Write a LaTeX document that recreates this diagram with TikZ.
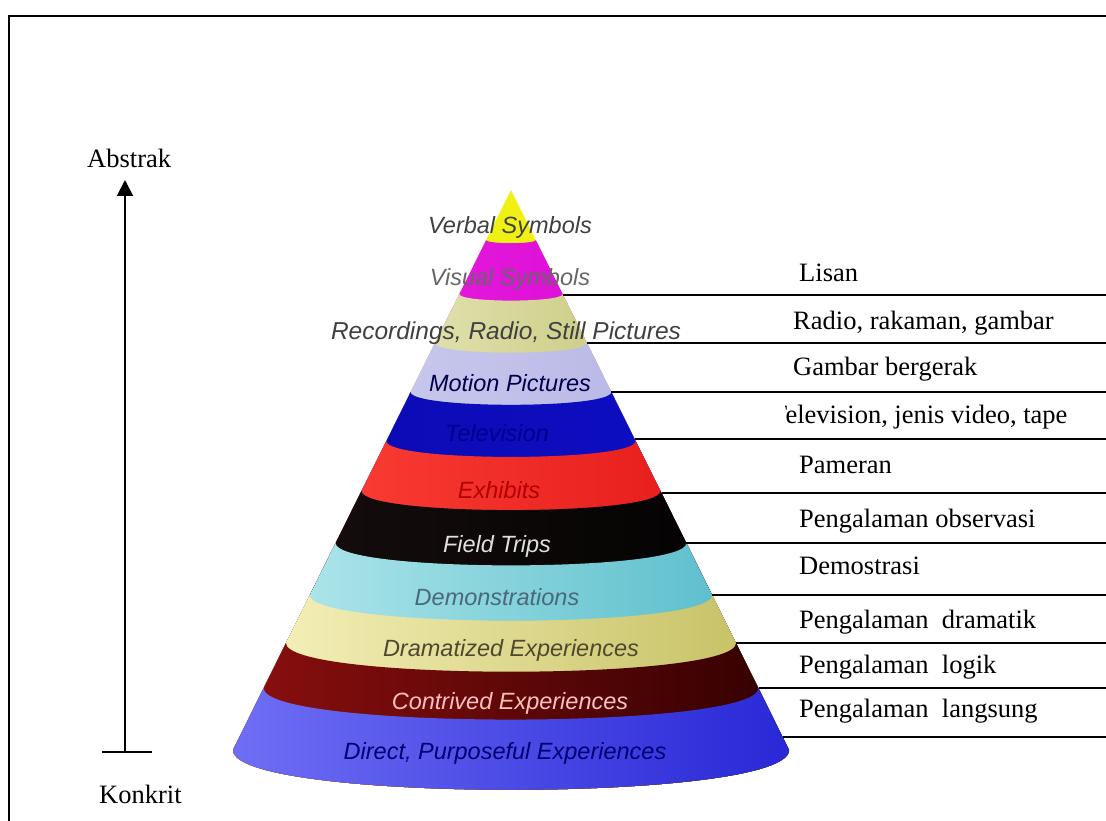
\documentclass[tikz,border=0pt]{standalone}
\usepackage{fontspec}
\setmainfont{Liberation Serif}
\newfontfamily\conefont{Liberation Sans}
\usetikzlibrary{arrows.meta}

\definecolor{cYel}{RGB}{240,240,20}
\definecolor{cMagL}{RGB}{235,40,225}
\definecolor{cMagR}{RGB}{215,0,210}
\definecolor{cKhaL}{RGB}{245,245,215}
\definecolor{cKhaR}{RGB}{185,185,95}
\definecolor{cLavL}{RGB}{210,210,242}
\definecolor{cLavR}{RGB}{175,175,225}
\definecolor{cBluL}{RGB}{10,10,175}
\definecolor{cBluR}{RGB}{15,15,200}
\definecolor{cRedL}{RGB}{255,70,60}
\definecolor{cRedR}{RGB}{225,20,20}
\definecolor{cBlkL}{RGB}{25,15,15}
\definecolor{cBlkR}{RGB}{0,0,0}
\definecolor{cCyaL}{RGB}{185,235,238}
\definecolor{cCyaR}{RGB}{80,185,200}
\definecolor{cCreL}{RGB}{248,243,190}
\definecolor{cCreR}{RGB}{195,190,95}
\definecolor{cDrdL}{RGB}{140,15,15}
\definecolor{cDrdR}{RGB}{50,0,0}
\definecolor{cBasL}{RGB}{110,110,245}
\definecolor{cBasR}{RGB}{40,40,215}

\tikzset{
  rlabel/.style={anchor=base west, inner sep=0pt, font=\fontsize{26.5}{31}\selectfont},
  conelabel/.style={inner sep=0pt, font=\conefont\itshape\fontsize{23.5}{28}\selectfont},
  leader/.style={line width=1.8pt},
}

\begin{document}
\begin{tikzpicture}[x=1pt,y=-1pt]
  \useasboundingbox (0,0) rectangle (1106,821);
  % frame
  \draw[line width=2pt] (9,821) -- (9,16) -- (1106,16);

  % cone, painted from the tip down
  \fill[cYel] (511,190) -- (233,750) .. controls (233,803) and (789,803) .. (789,750) -- cycle;
  \foreach \yb/\cl/\cr in {240/cMagL/cMagR, 294/cKhaL/cKhaR, 343/cLavL/cLavR,
      392/cBluL/cBluR, 441/cRedL/cRedR, 491/cBlkL/cBlkR, 543/cCyaL/cCyaR,
      595/cCreL/cCreR, 643/cDrdL/cDrdR, 688/cBasL/cBasR} {
    \pgfmathsetmacro\w{0.497*(\yb-190)}
    \pgfmathsetmacro\xl{511-\w}
    \pgfmathsetmacro\xr{511+\w}
    \pgfmathsetmacro\yc{\yb+0.17*\w}
    \shade[left color=\cl, right color=\cr]
      (\xl,\yb) .. controls (\xl,\yc) and (\xr,\yc) .. (\xr,\yb)
      -- (789,750) .. controls (789,803) and (233,803) .. (233,750) -- cycle;
  }

  \node[conelabel, text=black!75] (verbal) at (510,227) {Verbal Symbols};
  \node[conelabel, text=black!60] (visual) at (510,279) {Visual Symbols};
  \node[conelabel, text=black!75, font=\conefont\itshape\fontsize{24.5}{28}\selectfont] (recordings) at (506,333) {Recordings, Radio, Still Pictures};
  \node[conelabel, text=black!70!blue] (motion) at (510,383) {Motion Pictures};
  \node[conelabel, text=blue!55!black] (television) at (497,433) {Television};
  \node[conelabel, text=red!70!black] (exhibits) at (499,490) {Exhibits};
  \node[conelabel, text=black!12] (fieldtrips) at (497,546) {Field Trips};
  \node[conelabel, text=cyan!40!black] (demos) at (497,597) {Demonstrations};
  \node[conelabel, text=olive!40!black] (dramatized) at (511,650) {Dramatized Experiences};
  \node[conelabel, text=red!25!white] (contrived) at (510,703) {Contrived Experiences};
  \node[conelabel, text=blue!45!black] (direct) at (505,753) {Direct, Purposeful Experiences};

  % leaders
  \foreach \n/\yl in {1/295,2/343,3/392,4/439,5/493,6/543,7/595,8/643,9/688,10/737} {
    \pgfmathsetmacro\xs{511+0.497*(\yl-190)}
    \coordinate (s\n) at (\xs,\yl);
    \coordinate (e\n) at (1106,\yl);
  }
  \foreach \n in {1,...,10}
    \draw[leader] (s\n) -- (e\n);

  \node[rlabel] (lisan) at (799,281) {Lisan};
  \node[rlabel] (radio) at (793,329) {Radio, rakaman, gambar};
  \node[rlabel] (bergerak) at (793,375) {Gambar bergerak};
  \begin{scope}
    \clip (785,395) rectangle (1106,438);
    \node[rlabel] (tvjenis) at (771,423) {Television, jenis video, tape};
  \end{scope}
  \node[rlabel] (pameran) at (799,473) {Pameran};
  \node[rlabel] (observasi) at (799,527) {Pengalaman observasi};
  \node[rlabel] (demostrasi) at (799,574) {Demostrasi};
  \node[rlabel] (dramatik) at (799,628) {Pengalaman\ \ dramatik};
  \node[rlabel] (logik) at (799,673) {Pengalaman\ \ logik};
  \node[rlabel] (langsung) at (799,717) {Pengalaman\ \ langsung};

  % abstrak - konkrit axis
  \coordinate (abot) at (125,752);
  \coordinate (atop) at (125,180);
  \coordinate (barl) at (102,752);
  \coordinate (barr) at (152,752);
  \draw[line width=2pt, -{Triangle[length=16pt,width=16pt]}] (abot) -- (atop);
  \draw[line width=1.8pt] (barl) -- (barr);
  \node[rlabel] (abstrak) at (87,168) {Abstrak};
  \node[rlabel] (konkrit) at (99,803) {Konkrit};
\end{tikzpicture}
\end{document}
